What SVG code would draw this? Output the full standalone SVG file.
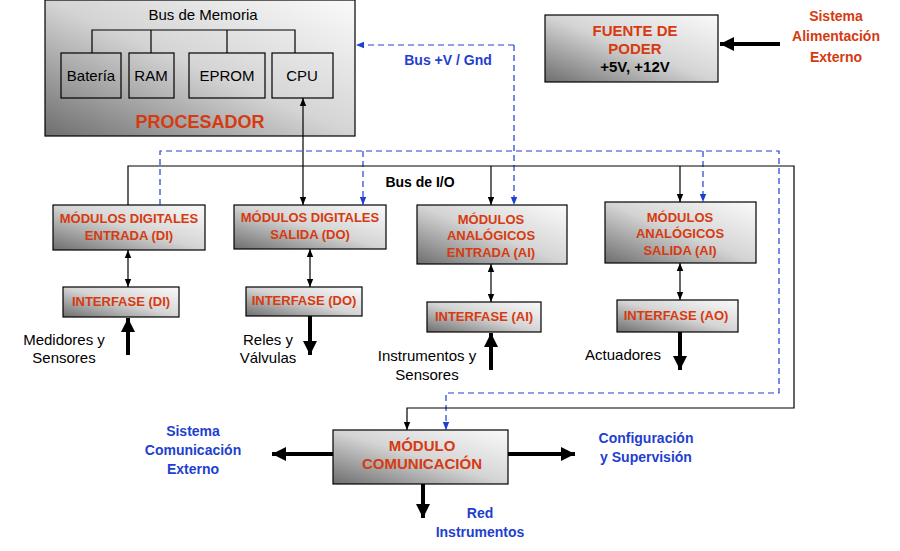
<svg xmlns="http://www.w3.org/2000/svg" width="900" height="551" viewBox="0 0 900 551">
<defs>
<linearGradient id="g" x1="0" y1="1" x2="1" y2="0"><stop offset="0" stop-color="#6e6e6e"/><stop offset="0.5" stop-color="#d4d4d4"/><stop offset="1" stop-color="#fafafa"/></linearGradient>
<marker id="a" viewBox="0 0 10 10" refX="10" refY="5" markerWidth="7" markerHeight="7" orient="auto-start-reverse"><path d="M0,1L10,5L0,9z" fill="#000"/></marker>
<marker id="b" viewBox="0 0 10 10" refX="10" refY="5" markerWidth="7" markerHeight="7" orient="auto"><path d="M0,1L10,5L0,9z" fill="#1f3fd0"/></marker>
<marker id="t" viewBox="0 0 10 10" refX="10" refY="5" markerWidth="3.5" markerHeight="3.5" orient="auto"><path d="M0,0L10,5L0,10z" fill="#000"/></marker>
</defs>
<style>
.m{fill:url(#g);stroke:#000;stroke-width:1.2}
.w{fill:none;stroke:#000;stroke-width:1.2}
.r{font-family:"Liberation Sans",Arial,sans-serif;font-weight:bold;fill:#d63a10;text-anchor:middle;font-size:13px}
.n{font-family:"Liberation Sans",Arial,sans-serif;fill:#000;font-size:15px;text-anchor:middle}
.bl{font-family:"Liberation Sans",Arial,sans-serif;font-weight:bold;fill:#1f3fd0;font-size:14px;text-anchor:middle}
.k{stroke:#000;stroke-width:1.2;fill:none}
.d{stroke:#1f3fd0;stroke-width:1.2;fill:none;stroke-dasharray:6,4}
.th{stroke:#000;stroke-width:4;fill:none}
</style>
<g id="procesador">
<rect class="m" x="45" y="0" width="310" height="136"/>
<text class="n" x="203" y="20">Bus de Memoria</text>
<path class="k" d="M92,53V30H295V53M151,30V53M227,30V53"/>
<rect class="w" x="61" y="53" width="60" height="45"/><text class="n" x="91" y="81">Batería</text>
<rect class="w" x="129" y="53" width="45" height="45"/><text class="n" x="151" y="81">RAM</text>
<rect class="w" x="189" y="53" width="76" height="45"/><text class="n" x="227" y="81">EPROM</text>
<rect class="w" x="272" y="53" width="61" height="45"/><text class="n" x="302" y="81">CPU</text>
<text class="r" x="200" y="128" style="font-size:18px">PROCESADOR</text>
</g>
<g id="fuente">
<rect class="m" x="545" y="15" width="173" height="67"/>
<text class="r" x="635" y="36" style="font-size:15px">FUENTE DE</text>
<text class="r" x="635" y="54" style="font-size:15px">PODER</text>
<text class="n" x="635" y="72" style="font-weight:bold">+5V, +12V</text>
</g>
<text class="r" x="836" y="21" style="font-size:14px">Sistema</text>
<text class="r" x="836" y="41" style="font-size:14px">Alimentación</text>
<text class="r" x="836" y="62" style="font-size:14px">Externo</text>
<text class="bl" x="448" y="65">Bus +V / Gnd</text>
<text class="n" x="420" y="187" style="font-weight:bold;font-size:14px">Bus de I/O</text>
<g id="di"><rect class="m" x="53" y="205" width="152" height="45"/><text class="r" x="129" y="223">MÓDULOS DIGITALES</text><text class="r" x="129" y="240">ENTRADA  (DI)</text></g>
<g id="do"><rect class="m" x="234" y="205" width="152" height="44"/><text class="r" x="310" y="222">MÓDULOS DIGITALES</text><text class="r" x="310" y="239">SALIDA  (DO)</text></g>
<g id="ai"><rect class="m" x="417" y="205" width="150" height="59"/><text class="r" x="491" y="224">MÓDULOS</text><text class="r" x="491" y="240">ANALÓGICOS</text><text class="r" x="491" y="257">ENTRADA  (AI)</text></g>
<g id="ao"><rect class="m" x="605" y="202" width="151" height="61"/><text class="r" x="680" y="222">MÓDULOS</text><text class="r" x="680" y="238">ANALÓGICOS</text><text class="r" x="680" y="255">SALIDA (AI)</text></g>
<g id="idi"><rect class="m" x="63" y="287" width="116" height="30"/><text class="r" x="121" y="306">INTERFASE  (DI)</text></g>
<g id="ido"><rect class="m" x="246" y="287" width="116" height="29"/><text class="r" x="304" y="305">INTERFASE  (DO)</text></g>
<g id="iai"><rect class="m" x="427" y="302" width="114" height="30"/><text class="r" x="484" y="321">INTERFASE  (AI)</text></g>
<g id="iao"><rect class="m" x="617" y="300" width="121" height="32"/><text class="r" x="676" y="320">INTERFASE  (AO)</text></g>
<g id="com"><rect class="m" x="333" y="430" width="175" height="54"/><text class="r" x="422" y="451" style="font-size:15px">MÓDULO</text><text class="r" x="422" y="469" style="font-size:15px">COMUNICACIÓN</text></g>
<text class="n" x="64" y="345">Medidores y</text><text class="n" x="64" y="363">Sensores</text>
<text class="n" x="268" y="345">Reles y</text><text class="n" x="268" y="363">Válvulas</text>
<text class="n" x="427" y="361">Instrumentos  y</text><text class="n" x="427" y="380">Sensores</text>
<text class="n" x="623" y="360">Actuadores</text>
<text class="bl" x="193" y="436">Sistema</text><text class="bl" x="193" y="455">Comunicación</text><text class="bl" x="193" y="474">Externo</text>
<text class="bl" x="646" y="443">Configuración</text><text class="bl" x="646" y="462">y Supervisión</text>
<text class="bl" x="480" y="518">Red</text><text class="bl" x="480" y="537">Instrumentos</text>
<g id="connectors">
<path class="d" d="M514,45H356" marker-end="url(#b)"/>
<path class="d" d="M514,45V205" marker-end="url(#b)"/>
<path class="d" d="M160,205V151H779V393H446V430" marker-end="url(#b)"/>
<path class="d" d="M363,151V205" marker-end="url(#b)"/>
<path class="d" d="M703,151V202" marker-end="url(#b)"/>
<path class="k" d="M128,205V166H794V408H407V430" marker-end="url(#a)"/>
<path class="k" d="M303,98V205" marker-start="url(#a)" marker-end="url(#a)"/>
<path class="k" d="M491,166V205" marker-end="url(#a)"/>
<path class="k" d="M680,166V202" marker-end="url(#a)"/>
<path class="k" d="M128,250V287" marker-start="url(#a)" marker-end="url(#a)"/>
<path class="k" d="M310,249V287" marker-start="url(#a)" marker-end="url(#a)"/>
<path class="k" d="M491,264V302" marker-start="url(#a)" marker-end="url(#a)"/>
<path class="k" d="M680,263V300" marker-start="url(#a)" marker-end="url(#a)"/>
<path class="th" d="M780,44H720" marker-end="url(#t)"/>
<path class="th" d="M128,355V318" marker-end="url(#t)"/>
<path class="th" d="M310,316V355" marker-end="url(#t)"/>
<path class="th" d="M491,370V333" marker-end="url(#t)"/>
<path class="th" d="M680,332V370" marker-end="url(#t)"/>
<path class="th" d="M333,454H272" marker-end="url(#t)"/>
<path class="th" d="M508,454H575" marker-end="url(#t)"/>
<path class="th" d="M423,484V518" marker-end="url(#t)"/>
</g>
</svg>
